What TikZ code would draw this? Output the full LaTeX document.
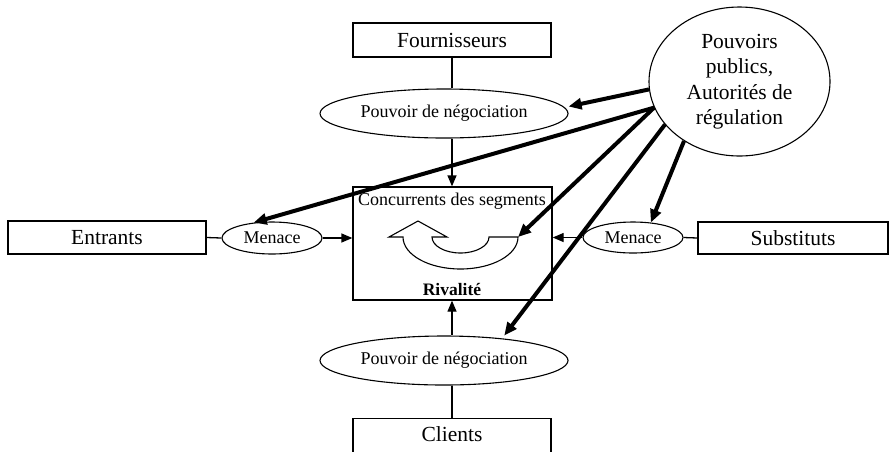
\documentclass[tikz,border=0pt]{standalone}
\usepackage{fontspec}
\setmainfont{Liberation Serif}
\usetikzlibrary{shapes.geometric,arrows.meta}
\begin{document}
\begin{tikzpicture}[x=1pt,y=-1pt,
  rectbox/.style={draw,line width=1.3pt,inner sep=0pt,font=\fontsize{21.5}{25}\selectfont},
  oval/.style={draw,ellipse,line width=1.1pt,inner sep=0pt,font=\fontsize{18}{21}\selectfont},
  thin/.style={line width=1.3pt},
  thinarrow/.style={line width=1.3pt,-{Triangle[length=11pt,width=9pt]}},
  thickarrow/.style={line width=4pt,-{Triangle[length=13pt,width=11pt]}},
  small/.style={font=\fontsize{18}{21}\selectfont,inner sep=0pt}]
\useasboundingbox (0,0) rectangle (890,451);
\clip (0,0) rectangle (890,451);
% boxes
\node[rectbox,minimum width=198pt,minimum height=34pt] (f) at (452,40) {Fournisseurs};
\node[rectbox,minimum width=198pt,minimum height=33pt] (e) at (107,237.5) {Entrants};
\node[rectbox,minimum width=190pt,minimum height=32pt] (s) at (793,238) {Substituts};
\node[rectbox,minimum width=198pt,minimum height=36pt,anchor=north] (c) at (452,418) {};
\node[font=\fontsize{21.5}{25}\selectfont,inner sep=0pt] (ct) at (452,434) {Clients};
\node[draw,line width=1.3pt,minimum width=199pt,minimum height=113pt,inner sep=0pt] (box) at (452.5,243.5) {};
\node[small] (conc) at (452,201) {Concurrents des segments};
\node[small,font=\fontsize{17.5}{21}\selectfont\bfseries] (riv) at (452,289) {Rivalité};
% ellipses
\node[oval,minimum width=248pt,minimum height=49pt] (pn1) at (444,113.5) {Pouvoir de négociation};
\node[oval,minimum width=248pt,minimum height=49pt] (pn2) at (444,360.5) {Pouvoir de négociation};
\node[oval,minimum width=100pt,minimum height=32pt] (m1) at (272,238) {Menace};
\node[oval,minimum width=100pt,minimum height=31pt] (m2) at (633,237.5) {Menace};
\node[oval,minimum width=181pt,minimum height=149pt,align=center,font=\fontsize{21.5}{25.5}\selectfont] (pp) at (739.5,81.5) {Pouvoirs\\publics,\\Autorités de\\régulation};
% curved arrow
\coordinate (cr) at (518,237);
\draw[line width=1.1pt,fill=white] (418,221) -- (447,237) -- (432,237)
  .. controls (432,245.8) and (444.8,253) .. (460.5,253)
  .. controls (476.2,253) and (489,245.8) .. (489,237)
  -- (cr)
  .. controls (518,254.7) and (492.3,269) .. (460.5,269)
  .. controls (428.7,269) and (403,254.7) .. (403,237)
  -- (389,237) -- cycle;
% thin connectors
\draw[thin] (f.south) -- (f.south |- pn1.north);
\draw[thinarrow] (f.south |- pn1.south) -- (f.south |- box.north);
\draw[thin] (c.north) -- (c.north |- pn2.south);
\draw[thinarrow] (c.north |- pn2.north) -- (c.north |- box.south);
\draw[thin] (e.east) -- (m1.west);
\draw[thinarrow] (m1.east) -- (m1.east -| box.west);
\draw[thin] (s.west) -- (m2.east);
\draw[thinarrow] (m2.west) -- (m2.west -| box.east);
% thick arrows
\draw[thickarrow] (pp.185) -- ([yshift=7pt]pn1.east);
\draw[thickarrow] (pp.197) -- (m1.140);
\draw[thickarrow] (pp.197) -- (cr);
\draw[thickarrow] (pp.210) -- ([yshift=3pt]pn2.20);
\draw[thickarrow] (pp.227) -- (m2.40);
\end{tikzpicture}
\end{document}
